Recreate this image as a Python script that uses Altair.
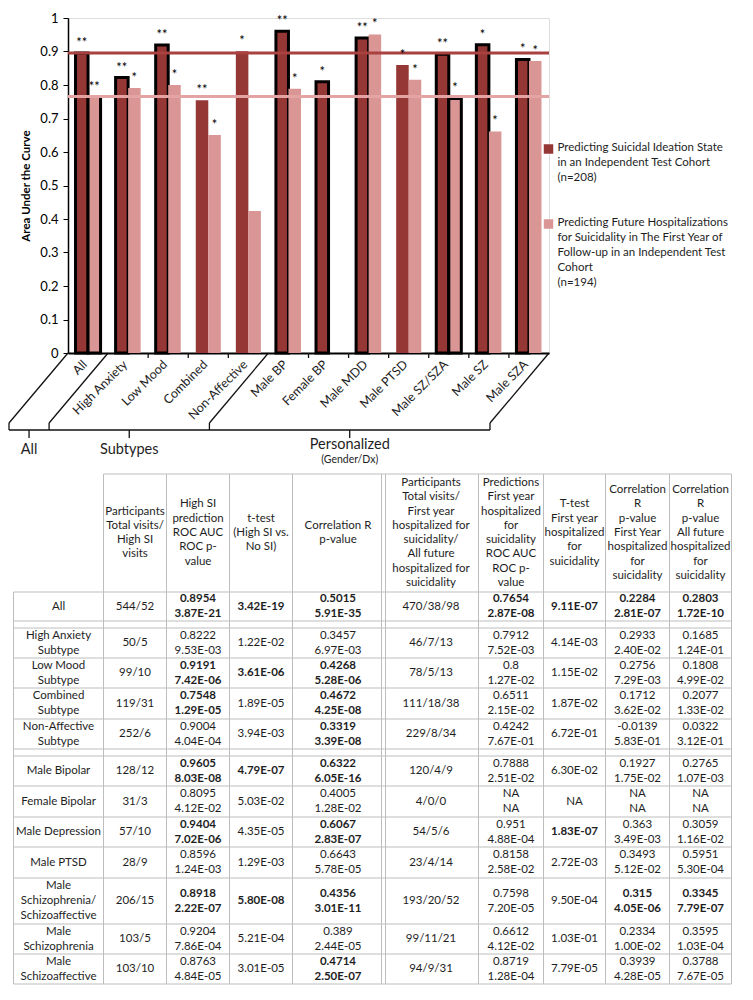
import altair as alt
import pandas as pd

FONT = "Lato"
DARK = "#953735"
PINK = "#D99694"
LINE_DARK = "#A8413F"
LINE_PINK = "#E3A4A3"
GRID = "#BDBDBD"
INK = "#1E1E1E"

# ---------------- chart data ----------------
categories = ["All", "High Anxiety", "Low Mood", "Combined", "Non-Affective",
              "Male BP", "Female BP", "Male MDD", "Male PTSD", "Male SZ/SZA",
              "Male SZ", "Male SZA"]
series = [
    "Predicting Suicidal  Ideation State\nin an Independent Test Cohort\n(n=208)",
    "Predicting Future Hospitalizations\nfor Suicidality in The First Year of\n"
    "Follow-up in an Independent Test\nCohort\n(n=194)",
]
si_auc = [0.8954, 0.8222, 0.9191, 0.7548, 0.9004, 0.9605, 0.8095, 0.9404,
          0.8596, 0.8918, 0.9204, 0.8763]
hosp_auc = [0.7654, 0.7912, 0.8, 0.6511, 0.4242, 0.7888, None, 0.951,
            0.8158, 0.7598, 0.6612, 0.8719]
si_stars = ["**", "**", "**", "**", "*", "**", "*", "**", "*", "**", "*", "*"]
hosp_stars = ["**", "*", "*", "*", "", "*", "", "*", "*", "*", "*", "*"]
si_outlined = [True, True, True, False, False, True, True, True, False, True, True, True]
hosp_outlined = [True, False, False, False, False, False, False, False, False, True, False, False]
reference_auc = [0.8954, 0.7654]
y_ticks = [0, 0.1, 0.2, 0.3, 0.4, 0.5, 0.6, 0.7, 0.8, 0.9, 1]

groups = ["All", "Subtypes", "Personalized"]
group_subtitle = "(Gender/Dx)"
group_first = ["All", "High Anxiety", "Male BP"]
group_last = ["Male SZA"]
inner_ticks = ["Low Mood", "Combined", "Non-Affective", "Female BP", "Male MDD",
               "Male PTSD", "Male SZ/SZA", "Male SZ", "Male SZA"]

# ---------------- table data ----------------
header_labels = [
    "",
    "Participants\nTotal visits/\nHigh SI\nvisits",
    "High SI\nprediction\nROC AUC\nROC p-\nvalue",
    "t-test\n(High SI vs.\nNo SI)",
    "Correlation R\np-value",
    "Participants\nTotal visits/\nFirst year\nhospitalized for\nsuicidality/\nAll future\nhospitalized for\nsuicidality",
    "Predictions\nFirst year\nhospitalized\nfor\nsuicidality\nROC AUC\nROC p-\nvalue",
    "T-test\nFirst year\nhospitalized\nfor\nsuicidality",
    "Correlation\nR\np-value\nFirst Year\nhospitalized\nfor\nsuicidality",
    "Correlation\nR\np-value\nAll future\nhospitalized\nfor\nsuicidality",
]
row_labels = ["All", "High Anxiety\nSubtype", "Low Mood\nSubtype", "Combined\nSubtype",
              "Non-Affective\nSubtype", "Male Bipolar", "Female Bipolar", "Male Depression",
              "Male PTSD", "Male\nSchizophrenia/\nSchizoaffective", "Male\nSchizophrenia",
              "Male\nSchizoaffective"]
si_visits = ["544/52", "50/5", "99/10", "119/31", "252/6", "128/12", "31/3", "57/10",
             "28/9", "206/15", "103/5", "103/10"]
si_roc = ["0.8954\n3.87E-21", "0.8222\n9.53E-03", "0.9191\n7.42E-06", "0.7548\n1.29E-05",
          "0.9004\n4.04E-04", "0.9605\n8.03E-08", "0.8095\n4.12E-02", "0.9404\n7.02E-06",
          "0.8596\n1.24E-03", "0.8918\n2.22E-07", "0.9204\n7.86E-04", "0.8763\n4.84E-05"]
si_ttest = ["3.42E-19", "1.22E-02", "3.61E-06", "1.89E-05", "3.94E-03", "4.79E-07",
            "5.03E-02", "4.35E-05", "1.29E-03", "5.80E-08", "5.21E-04", "3.01E-05"]
si_corr = ["0.5015\n5.91E-35", "0.3457\n6.97E-03", "0.4268\n5.28E-06", "0.4672\n4.25E-08",
           "0.3319\n3.39E-08", "0.6322\n6.05E-16", "0.4005\n1.28E-02", "0.6067\n2.83E-07",
           "0.6643\n5.78E-05", "0.4356\n3.01E-11", "0.389\n2.44E-05", "0.4714\n2.50E-07"]
hosp_visits = ["470/38/98", "46/7/13", "78/5/13", "111/18/38", "229/8/34", "120/4/9",
               "4/0/0", "54/5/6", "23/4/14", "193/20/52", "99/11/21", "94/9/31"]
hosp_roc = ["0.7654\n2.87E-08", "0.7912\n7.52E-03", "0.8\n1.27E-02", "0.6511\n2.15E-02",
            "0.4242\n7.67E-01", "0.7888\n2.51E-02", "NA\nNA", "0.951\n4.88E-04",
            "0.8158\n2.58E-02", "0.7598\n7.20E-05", "0.6612\n4.12E-02", "0.8719\n1.28E-04"]
hosp_ttest = ["9.11E-07", "4.14E-03", "1.15E-02", "1.87E-02", "6.72E-01", "6.30E-02",
              "NA", "1.83E-07", "2.72E-03", "9.50E-04", "1.03E-01", "7.79E-05"]
hosp_corr_first = ["0.2284\n2.81E-07", "0.2933\n2.40E-02", "0.2756\n7.29E-03",
                   "0.1712\n3.62E-02", "-0.0139\n5.83E-01", "0.1927\n1.75E-02", "NA\nNA",
                   "0.363\n3.49E-03", "0.3493\n5.12E-02", "0.315\n4.05E-06",
                   "0.2334\n1.00E-02", "0.3939\n4.28E-05"]
hosp_corr_all = ["0.2803\n1.72E-10", "0.1685\n1.24E-01", "0.1808\n4.99E-02",
                 "0.2077\n1.33E-02", "0.0322\n3.12E-01", "0.2765\n1.07E-03", "NA\nNA",
                 "0.3059\n1.16E-02", "0.5951\n5.30E-04", "0.3345\n7.79E-07",
                 "0.3595\n1.03E-04", "0.3788\n7.67E-05"]
table_columns = [row_labels, si_visits, si_roc, si_ttest, si_corr, hosp_visits,
                 hosp_roc, hosp_ttest, hosp_corr_first, hosp_corr_all]
# rows printed in bold, per column
bold_rows = [[], [], [0, 2, 3, 5, 7, 9], [0, 2, 5, 9], [0, 2, 3, 4, 5, 7, 9, 11],
             [], [0], [0, 7], [0, 9], [0, 9]]

# ---------------- layout (pixels) ----------------
W, H = 481, 335
TOP_PAD = 4
PLOT_LEFT, PLOT_TOP = 67.5, 15.0 + TOP_PAD
SLANT_DX, SLANT_DY = -59, 70
BRACKET_Y = H + 77
COL_EDGES = [13, 103, 166, 229, 292, 383, 478, 543, 605, 669, 731]
DOUBLE_EDGE = 5
TABLE_TOP, HEADER_BOTTOM = 475, 593
ROW_HEIGHTS = [29, 30, 30, 31, 30, 30, 31, 30, 31, 46, 30, 30]
GAP_AFTER = {0: 7, 4: 7}
CELL_LH, HEAD_LH = 15, 14.3
LEGEND_SQ_X, LEGEND_TEXT_X = 548, 557
LEGEND_Y = [150, 225]

# ---------------- bar part ----------------
bar_rows = []
for i, c in enumerate(categories):
    bar_rows.append(dict(cat=c, series=series[0], auc=si_auc[i], stars=si_stars[i],
                         outlined=si_outlined[i]))
    if hosp_auc[i] is not None:
        bar_rows.append(dict(cat=c, series=series[1], auc=hosp_auc[i], stars=hosp_stars[i],
                             outlined=hosp_outlined[i]))
bar_df = pd.DataFrame(bar_rows)

x_scale = alt.Scale(domain=categories, paddingInner=0, paddingOuter=0)
y_scale = alt.Scale(domain=[0, 1], nice=False)
off_scale = alt.Scale(domain=series, paddingInner=0, paddingOuter=0.6)
color_scale = alt.Scale(domain=series, range=[DARK, PINK])

X_AXIS = alt.Axis(title=None, labelAngle=-45, labelAlign="right", labelBaseline="middle",
                  labelPadding=9, labelOffset=-3, ticks=False, labelOverlap=False,
                  domainColor="black", domainWidth=2, labelFont=FONT, labelFontSize=12.5,
                  labelColor=INK, labelLimit=250)
Y_AXIS = alt.Axis(values=y_ticks, format="~g", grid=False, title="Area Under the Curve",
                  titleFont=FONT, titleFontSize=11.5, titleFontWeight="bold",
                  titleColor="black", titlePadding=8, labelFont=FONT, labelFontSize=13,
                  labelColor="black", tickColor="black", tickSize=5, labelPadding=5,
                  labelOverlap=False, labelFlush=False, tickCount=11,
                  domainColor="black", domainWidth=1.5)

Y_ENC = alt.Y("auc:Q", scale=y_scale, axis=Y_AXIS)

bars = alt.Chart(bar_df).mark_bar(stroke="black").encode(
    x=alt.X("cat:N", scale=x_scale, axis=X_AXIS),
    y=Y_ENC,
    xOffset=alt.XOffset("series:N", scale=off_scale),
    color=alt.Color("series:N", scale=color_scale, legend=None),
    strokeWidth=alt.condition(alt.datum.outlined, alt.value(3), alt.value(0)),
)

stars = alt.Chart(bar_df).transform_filter("datum.stars != ''").mark_text(
    baseline="bottom", dy=-3, fontSize=13, font=FONT, color="black"
).encode(
    x=alt.X("cat:N", scale=x_scale, axis=X_AXIS),
    y=Y_ENC,
    xOffset=alt.XOffset("series:N", scale=off_scale),
    text="stars:N",
)

ref_df = pd.DataFrame({"series": series, "auc": reference_auc})
ref_rules = alt.Chart(ref_df).mark_rule(strokeWidth=3).encode(
    y=Y_ENC,
    stroke=alt.Stroke("series:N", scale=alt.Scale(domain=series, range=[LINE_DARK, LINE_PINK]),
                      legend=None),
)

deco = dict(color="#111111", strokeWidth=1.3)

tick_marks = alt.Chart(pd.DataFrame({"cat": inner_ticks})).mark_rule(**deco).encode(
    x=alt.X("cat:N", scale=x_scale, bandPosition=0),
    y=alt.value(H), y2=alt.value(H + 5),
)


def slant(cats, band):
    d = pd.DataFrame({"cat": cats})
    line = alt.Chart(d).mark_rule(x2Offset=SLANT_DX, **deco).encode(
        x=alt.X("cat:N", scale=x_scale, bandPosition=band),
        x2=alt.X2("cat:N", bandPosition=band),
        y=alt.value(H), y2=alt.value(H + SLANT_DY),
    )
    foot = alt.Chart(d).mark_rule(xOffset=SLANT_DX, **deco).encode(
        x=alt.X("cat:N", scale=x_scale, bandPosition=band),
        y=alt.value(H + SLANT_DY), y2=alt.value(BRACKET_Y),
    )
    return [line, foot]


bracket = alt.Chart(pd.DataFrame({"start": [categories[0]], "end": [categories[-1]]})).mark_rule(
    xOffset=SLANT_DX, x2Offset=SLANT_DX, **deco
).encode(
    x=alt.X("start:N", scale=x_scale, bandPosition=0),
    x2=alt.X2("end:N", bandPosition=1),
    y=alt.value(BRACKET_Y),
)

group_df = pd.DataFrame({"group": groups, "cat": ["All", "Combined", "Male PTSD"],
                         "band": [0.5, 0, 0.5]})


def group_layers(band):
    d = group_df[group_df["band"] == band]
    tick = alt.Chart(d).mark_rule(xOffset=SLANT_DX, **deco).encode(
        x=alt.X("cat:N", scale=x_scale, bandPosition=band),
        y=alt.value(BRACKET_Y), y2=alt.value(BRACKET_Y + 8),
    )
    main = d[d["group"] != "Personalized"]
    pers = d[d["group"] == "Personalized"]
    out = [tick]
    if len(main):
        out.append(alt.Chart(main).mark_text(xOffset=SLANT_DX, fontSize=14.5, font=FONT,
                                             color=INK, baseline="middle").encode(
            x=alt.X("cat:N", scale=x_scale, bandPosition=band),
            y=alt.value(BRACKET_Y + 20), text="group:N"))
    if len(pers):
        out.append(alt.Chart(pers).mark_text(xOffset=SLANT_DX, fontSize=14.5, font=FONT,
                                             color=INK, baseline="middle").encode(
            x=alt.X("cat:N", scale=x_scale, bandPosition=band),
            y=alt.value(BRACKET_Y + 15), text="group:N"))
        out.append(alt.Chart(pers.assign(sub=group_subtitle)).mark_text(
            xOffset=SLANT_DX, fontSize=10.5, font=FONT, color=INK, baseline="middle").encode(
            x=alt.X("cat:N", scale=x_scale, bandPosition=band),
            y=alt.value(BRACKET_Y + 30), text="sub:N"))
    return out


band_group = alt.layer(
    bars, ref_rules, stars, tick_marks,
    *slant(group_first, 0), *slant(group_last, 1), bracket,
    *group_layers(0.5), *group_layers(0),
)

# ---------------- table + legend (page coordinates) ----------------
PX = alt.Scale(domain=[0, 1000], range=[-PLOT_LEFT, 1000 - PLOT_LEFT], zero=False, nice=False)
PY = alt.Scale(domain=[0, 1000], range=[-PLOT_TOP, 1000 - PLOT_TOP], zero=False, nice=False)


def first_line_y(center, txt, lh):
    # multi-line text is drawn downward from its first line: centre the block
    return center - (txt.count("\n")) * lh / 2


row_top, row_bot = [], []
y = HEADER_BOTTOM
for i, h in enumerate(ROW_HEIGHTS):
    row_top.append(y)
    row_bot.append(y + h)
    y += h + GAP_AFTER.get(i, 0)
TABLE_BOTTOM = row_bot[-1]

cells = []
for j, col in enumerate(table_columns):
    cx = (COL_EDGES[j] + COL_EDGES[j + 1]) / 2
    for i, txt in enumerate(col):
        cells.append(dict(text=txt, bold=i in bold_rows[j], px=cx,
                          py=first_line_y((row_top[i] + row_bot[i]) / 2, txt, CELL_LH)))
cells_df = pd.DataFrame(cells)
head_df = pd.DataFrame([dict(text=t, px=(COL_EDGES[j] + COL_EDGES[j + 1]) / 2,
                             py=first_line_y((TABLE_TOP + HEADER_BOTTOM) / 2, t, HEAD_LH))
                        for j, t in enumerate(header_labels) if t])

lines = []
hy = [HEADER_BOTTOM] + sorted(set(row_top[1:] + row_bot))
lines.append(dict(x=COL_EDGES[1], x2=COL_EDGES[-1], y=TABLE_TOP, y2=TABLE_TOP))
for v in hy:
    lines.append(dict(x=COL_EDGES[0], x2=COL_EDGES[-1], y=v, y2=v))
for j, e in enumerate(COL_EDGES):
    top = HEADER_BOTTOM if j == 0 else TABLE_TOP
    xs = [e - 2, e + 2] if j == DOUBLE_EDGE else [e]
    for xv in xs:
        lines.append(dict(x=xv, x2=xv, y=top, y2=TABLE_BOTTOM))
lines_df = pd.DataFrame(lines)

grid = alt.Chart(lines_df).mark_rule(color=GRID, strokeWidth=1).encode(
    x=alt.X("x:Q", scale=PX, axis=None), x2="x2:Q",
    y=alt.Y("y:Q", scale=PY, axis=None), y2="y2:Q",
)

text_kw = dict(font=FONT, fontSize=11.5, lineBreak="\n", lineHeight=CELL_LH, color=INK,
               align="center", baseline="middle")
header = alt.Chart(head_df).mark_text(**{**text_kw, "lineHeight": HEAD_LH}).encode(
    x=alt.X("px:Q", scale=PX, axis=None), y=alt.Y("py:Q", scale=PY, axis=None), text="text:N")
cell_norm = alt.Chart(cells_df).transform_filter("!datum.bold").mark_text(**text_kw).encode(
    x=alt.X("px:Q", scale=PX, axis=None), y=alt.Y("py:Q", scale=PY, axis=None), text="text:N")
cell_bold = alt.Chart(cells_df).transform_filter("datum.bold").mark_text(
    fontWeight="bold", **text_kw).encode(
    x=alt.X("px:Q", scale=PX, axis=None), y=alt.Y("py:Q", scale=PY, axis=None), text="text:N")

legend_df = pd.DataFrame({"series": series, "sx": [LEGEND_SQ_X] * 2,
                          "tx": [LEGEND_TEXT_X] * 2, "py": LEGEND_Y,
                          "ty": [v - 7 for v in LEGEND_Y]})
legend_sq = alt.Chart(legend_df).mark_square(size=90, opacity=1).encode(
    x=alt.X("sx:Q", scale=PX, axis=None), y=alt.Y("py:Q", scale=PY, axis=None),
    color=alt.Color("series:N", scale=color_scale, legend=None))
legend_tx = alt.Chart(legend_df).mark_text(
    font=FONT, fontSize=11.5, lineBreak="\n", lineHeight=15, color=INK,
    align="left", baseline="top").encode(
    x=alt.X("tx:Q", scale=PX, axis=None), y=alt.Y("ty:Q", scale=PY, axis=None),
    text="series:N")

page_group = alt.layer(grid, header, cell_norm, cell_bold, legend_sq, legend_tx)

chart = alt.layer(band_group, page_group).resolve_scale(
    x="independent", y="independent"
).properties(
    width=W, height=H, padding={"top": TOP_PAD, "left": 0, "right": 0, "bottom": 0}
).configure_view(strokeWidth=0).configure(font=FONT).configure_axisY(
    labelOverlap=False
)

chart.save("out.html", embed_options={"renderer": "svg", "actions": False})
